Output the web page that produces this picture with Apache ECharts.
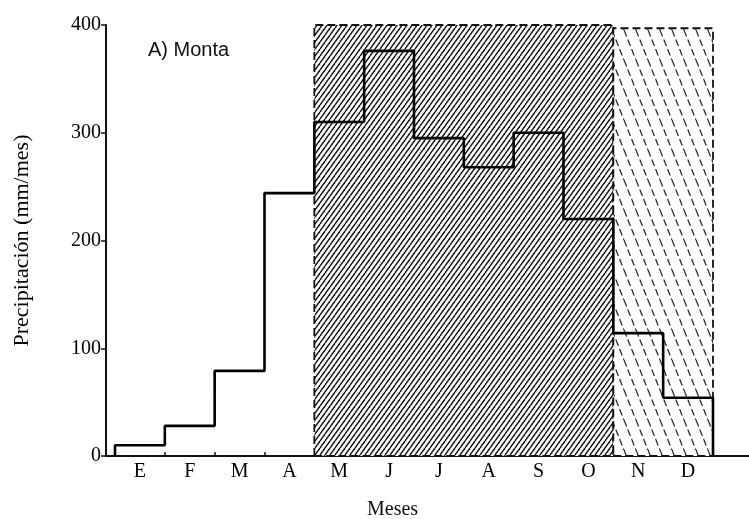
<!DOCTYPE html>
<html>
<head>
<meta charset="utf-8">
<script src="https://cdn.jsdelivr.net/npm/echarts@6/dist/echarts.min.js"></script>
<style>html,body{margin:0;padding:0;background:#fff}#c{width:749px;height:519px}</style>
</head>
<body>
<div id="c"></div>
<script>
// ---- data ----
const months = ['E','F','M','A','M','J','J','A','S','O','N','D'];
const precip = [10, 28, 79, 244, 310, 376, 295, 268, 300, 220, 114, 54];
const yTicks = [0, 100, 200, 300, 400];
const humidSpan = [4, 10, 400];      // start month index, end month index, top value
const transitionSpan = [10, 12, 397];

// ---- patterns ----
function hatchDense() {
  const w = 5, h = 7;
  const c = document.createElement('canvas');
  c.width = w; c.height = h;
  const g = c.getContext('2d');
  g.fillStyle = '#fff'; g.fillRect(0, 0, w, h);
  g.strokeStyle = '#111'; g.lineWidth = 1.4;
  for (let k = -1; k <= 1; k++) {
    g.beginPath(); g.moveTo(k * w, h); g.lineTo(k * w + w, 0); g.stroke();
  }
  return c;
}
function hatchDashed() {
  const w = 12, h = 30;
  const c = document.createElement('canvas');
  c.width = w; c.height = h;
  const g = c.getContext('2d');
  g.fillStyle = '#fff'; g.fillRect(0, 0, w, h);
  g.strokeStyle = '#222'; g.lineWidth = 1.2;
  g.setLineDash([7, 3.2]);
  for (let k = -1; k <= 1; k++) {
    g.beginPath(); g.moveTo(k * w, 0); g.lineTo(k * w + w, h); g.stroke();
  }
  return c;
}

// step outline built from the monthly values
const stepPts = [[0, 0]];
precip.forEach((v, i) => { stepPts.push([i, v]); stepPts.push([i + 1, v]); });
stepPts.push([precip.length, 0]);

const serif = 'Liberation Serif';
const chart = echarts.init(document.getElementById('c'));
chart.setOption({
  animation: false,
  backgroundColor: '#fff',
  title: [
    { text: 'A) Monta', left: 143, top: 35, textStyle: { fontFamily: 'Liberation Sans', fontSize: 20, fontWeight: 'normal', color: '#111' } },
    { text: 'Meses', left: 362, top: 495, textStyle: { fontFamily: serif, fontSize: 20, fontWeight: 'normal', color: '#111' } }
  ],
  grid: [
    { left: 115, right: 36, top: 25, bottom: 63 },
    { left: 106, right: 0, top: 25, bottom: 63 }
  ],
  xAxis: [
    { gridIndex: 0, type: 'category', data: months, boundaryGap: true,
      axisLine: { show: false },
      axisTick: { show: true, inside: true, length: 4, lineStyle: { color: '#111', width: 1.5 } },
      axisLabel: { fontFamily: serif, fontSize: 20, color: '#000', margin: 6 },
      splitLine: { show: false } },
    { gridIndex: 0, type: 'value', min: 0, max: months.length, show: false },
    { gridIndex: 1, type: 'value', min: 0, max: 1,
      axisLine: { show: true, lineStyle: { color: '#111', width: 2 } },
      axisTick: { show: false }, axisLabel: { show: false }, splitLine: { show: false } }
  ],
  yAxis: [
    { gridIndex: 0, type: 'value', min: yTicks[0], max: yTicks[yTicks.length - 1], show: false },
    { gridIndex: 1, type: 'value', min: yTicks[0], max: yTicks[yTicks.length - 1], interval: 100,
      name: 'Precipitación (mm/mes)', nameLocation: 'middle', nameGap: 73,
      nameTextStyle: { fontFamily: serif, fontSize: 22, color: '#000' },
      axisLine: { show: true, lineStyle: { color: '#111', width: 2 } },
      axisTick: { show: true, length: 5, lineStyle: { color: '#111', width: 1.5 } },
      axisLabel: { fontFamily: serif, fontSize: 20, color: '#000', margin: 5 },
      splitLine: { show: false } }
  ],
  series: [
    { type: 'line', xAxisIndex: 1, yAxisIndex: 0, data: [], z: 1, silent: true,
      markArea: {
        silent: true,
        label: { show: false },
        data: [
          [ { coord: [humidSpan[0], 0], itemStyle: { color: { image: hatchDense(), repeat: 'repeat' }, borderColor: '#111', borderWidth: 1.8, borderType: [8, 4] } },
            { coord: [humidSpan[1], humidSpan[2]] } ],
          [ { coord: [transitionSpan[0], 0], itemStyle: { color: { image: hatchDashed(), repeat: 'repeat' }, borderColor: '#111', borderWidth: 1.8, borderType: [8, 4] } },
            { coord: [transitionSpan[1], transitionSpan[2]] } ]
        ]
      } },
    { type: 'line', xAxisIndex: 1, yAxisIndex: 0, data: stepPts, z: 5, symbol: 'none',
      lineStyle: { color: '#000', width: 2.6 }, silent: true }
  ]
});
</script>
</body>
</html>
